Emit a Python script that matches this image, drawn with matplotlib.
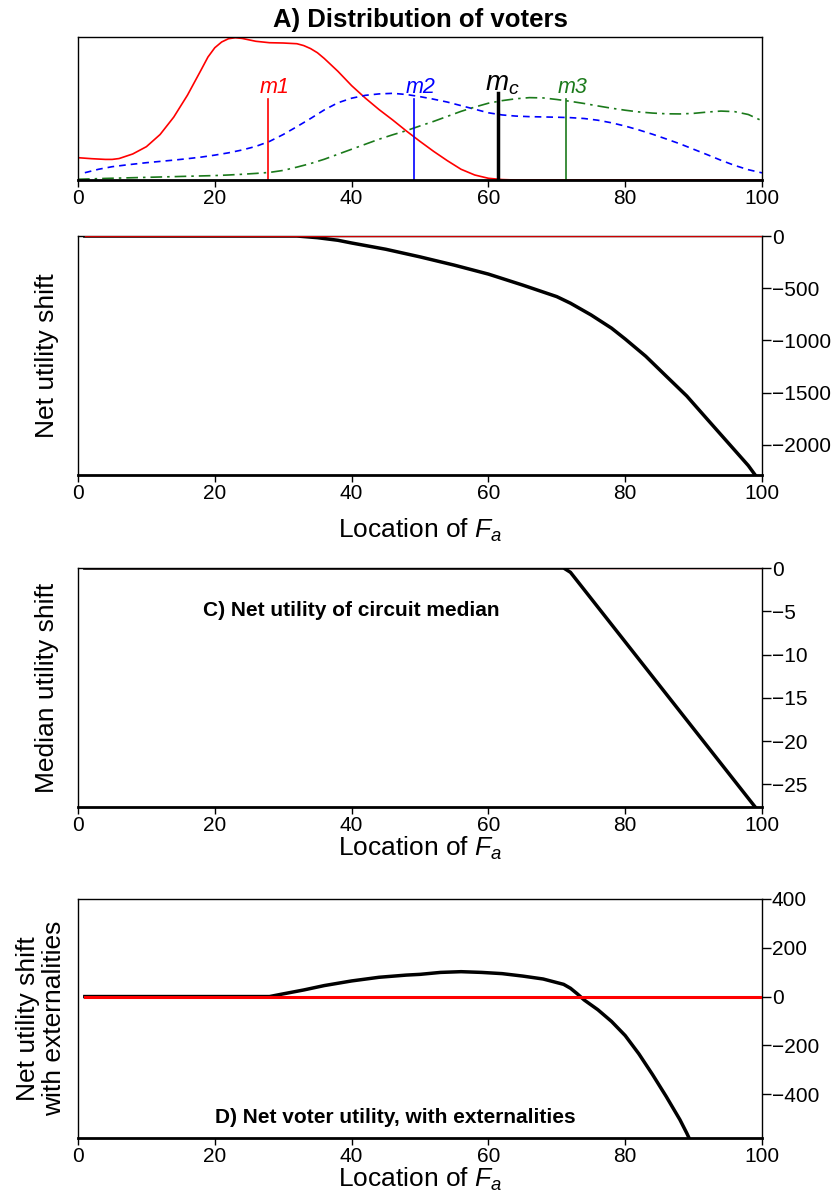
import matplotlib
matplotlib.use("Agg")
import matplotlib.pyplot as plt

plt.rcParams['font.family'] = ['Liberation Sans', 'DejaVu Sans']
plt.rcParams['mathtext.fontset'] = 'custom'
plt.rcParams['mathtext.rm'] = 'Liberation Sans'
plt.rcParams['mathtext.it'] = 'Liberation Sans:italic'
plt.rcParams['axes.unicode_minus'] = True

# ---------------- data ----------------
# Panel A: voter densities (scaled so the red peak touches the top)
red_x = [0, 2, 4, 5, 6, 8, 10, 12, 14, 16, 18, 19, 20, 21, 22, 23, 24, 26, 28, 30, 32,
         33, 34, 35, 36, 38, 40, 42, 44, 46, 48, 50, 52, 54, 56, 58, 60, 62, 64, 100]
red_y = [0.156, 0.149, 0.144, 0.144, 0.150, 0.182, 0.233, 0.318, 0.44, 0.593, 0.77,
         0.86, 0.925, 0.965, 0.988, 0.995, 0.99, 0.97, 0.96, 0.958, 0.953, 0.94, 0.919,
         0.89, 0.85, 0.76, 0.66, 0.573, 0.493, 0.42, 0.343, 0.27, 0.2, 0.135, 0.075,
         0.035, 0.012, 0.003, 0.0, 0.0]

blue_x = [1, 3, 5, 7, 10, 12, 14, 16, 18, 20, 22, 24, 26, 28, 30, 32, 34, 36, 38, 40,
          42, 44, 46, 48, 50, 52, 54, 56, 58, 60, 62, 64, 66, 68, 70, 72, 74, 76, 78,
          80, 82, 84, 86, 88, 90, 92, 94, 96, 98, 100]
blue_y = [0.051, 0.075, 0.093, 0.105, 0.121, 0.13, 0.139, 0.149, 0.16, 0.174, 0.19,
          0.21, 0.235, 0.27, 0.318, 0.373, 0.43, 0.49, 0.54, 0.572, 0.592, 0.602, 0.606,
          0.598, 0.583, 0.565, 0.545, 0.52, 0.495, 0.47, 0.455, 0.447, 0.443, 0.441,
          0.439, 0.436, 0.43, 0.418, 0.40, 0.377, 0.35, 0.32, 0.287, 0.253, 0.215,
          0.177, 0.138, 0.102, 0.072, 0.05]

green_x = [0, 4, 8, 12, 16, 20, 22, 24, 26, 28, 30, 32, 34, 36, 38, 40, 42, 44, 46, 48,
           50, 52, 54, 56, 58, 60, 62, 64, 66, 68, 70, 72, 74, 76, 78, 80, 82, 84, 86,
           88, 90, 92, 94, 96, 98, 100]
green_y = [0.005, 0.011, 0.016, 0.021, 0.026, 0.031, 0.035, 0.04, 0.046, 0.053, 0.067,
           0.09, 0.115, 0.145, 0.18, 0.215, 0.25, 0.285, 0.316, 0.345, 0.378, 0.41,
           0.445, 0.48, 0.51, 0.537, 0.555, 0.568, 0.576, 0.574, 0.563, 0.55, 0.535,
           0.518, 0.502, 0.488, 0.476, 0.468, 0.463, 0.462, 0.466, 0.475, 0.482, 0.478,
           0.458, 0.414]

median_names = ['m1', 'm2', 'm3']
median_pos = [27.8, 49.1, 71.3]
median_top = [0.564, 0.564, 0.564]
median_cols = ['#FF0000', '#0000FF', '#1B7A1B']
circuit_median = 61.4
circuit_median_top = 0.606

# Panel B: net utility shift
b_x = [1, 32, 35, 38, 40, 45, 50, 55, 60, 65, 70, 72, 75, 78, 80, 83, 86, 89, 92, 95, 98, 99]
b_y = [0, 0, -16, -41, -67, -127, -200, -279, -365, -470, -581, -644, -756, -883, -987,
       -1152, -1343, -1533, -1756, -1978, -2200, -2290]

# Panel C: median utility shift
c_x = [1, 71, 72, 99]
c_y = [0, 0, -0.5, -27.6]

# Panel D: net utility shift with externalities
d_x = [1, 28, 30, 33, 36, 40, 44, 48, 50, 53, 56, 59, 62, 65, 68, 71, 72, 73, 74, 76,
       78, 80, 82, 84, 86, 88, 89, 90]
d_y = [0, 0, 11, 27, 45, 64, 79, 88, 91, 99, 102, 99, 94, 84, 72, 50, 34, 11, -14, -54,
       -102, -160, -235, -320, -410, -505, -560, -620]

x_ticks = [0, 20, 40, 60, 80, 100]
b_ticks = [0, -500, -1000, -1500, -2000]
c_ticks = [0, -5, -10, -15, -20, -25]
d_ticks = [400, 200, 0, -200, -400]

# ---------------- figure ----------------
W, H = 837, 1193
fig = plt.figure(figsize=(W / 100, H / 100), dpi=100)

L = 78 / W
AW = (762 - 78) / W


def make_ax(top_px, bot_px):
    return fig.add_axes([L, 1 - bot_px / H, AW, (bot_px - top_px) / H])


def style(ax, right_ticks=True):
    ax.set_xlim(0, 100)
    ax.set_xticks(x_ticks)
    ax.tick_params(axis='x', direction='out', length=5, width=1, pad=1.5, labelsize=15)
    for s in ['left', 'right', 'top']:
        ax.spines[s].set_linewidth(1)
    ax.spines['bottom'].set_linewidth(2)
    if right_ticks:
        ax.yaxis.tick_right()
        ax.tick_params(axis='y', direction='out', length=6.5, width=1, pad=0.5,
                       labelsize=15, left=False, right=True)
    else:
        ax.set_yticks([])


# Panel A
axA = make_ax(37, 180)
axA.plot(red_x, red_y, color='#FF0000', lw=1.2, ls='-')
axA.plot(blue_x, blue_y, color='#0000FF', lw=1.2, ls=(0, (4, 3)))
axA.plot(green_x, green_y, color='#1B7A1B', lw=1.2, ls=(0, (7, 3, 1.5, 3)))
for name, pos, top, col in zip(median_names, median_pos, median_top, median_cols):
    axA.plot([pos, pos], [0, top], color=col, lw=1.2)
    axA.text(pos + 1.0, 0.61, name, color=col, fontsize=15.5, style='italic',
             ha='center', va='baseline')
axA.plot([circuit_median, circuit_median], [0, circuit_median_top], color='black', lw=2.5)
axA.text(circuit_median + 0.6, 0.625, r'$m_c$', color='black', fontsize=20,
         ha='center', va='baseline')
axA.set_ylim(0, 1.0)
style(axA, right_ticks=False)
axA.text(0.5, 1 + 17 / 143, 'A) Distribution of voters', transform=axA.transAxes,
         ha='center', va='center', fontsize=18.5, fontweight='bold')

# Panel B
axB = make_ax(236, 475)
axB.plot(b_x, b_y, color='black', lw=2.5)
axB.plot([1, 100], [0, 0], color='#CC0000', lw=1.0, zorder=3)
axB.set_ylim(-2290, 0)
style(axB)
axB.set_yticks(b_ticks)
axB.set_yticklabels(['0', '\u2212500', '\u22121000', '\u22121500', '\u22122000'])
axB.text(0.5, -55 / 239, r'Location of $F_a$', transform=axB.transAxes,
         ha='center', va='center', fontsize=19)
fig.text(47 / W, 1 - 355.5 / H, 'Net utility shift', rotation=90, ha='center',
         va='center', fontsize=19)

# Panel C
axC = make_ax(568, 807)
axC.plot(c_x, c_y, color='black', lw=2.5)
axC.plot([1, 100], [0, 0], color='#CC0000', lw=1.0, zorder=1)
axC.set_ylim(-27.6, 0)
style(axC)
axC.set_yticks(c_ticks)
axC.set_yticklabels(['0', '\u22125', '\u221210', '\u221215', '\u221220', '\u221225'])
axC.text(40, -4.9, 'C) Net utility of circuit median', ha='center', va='center',
         fontsize=15, fontweight='bold')
axC.text(0.5, -41 / 239, r'Location of $F_a$', transform=axC.transAxes,
         ha='center', va='center', fontsize=19)
fig.text(47 / W, 1 - 687.5 / H, 'Median utility shift', rotation=90, ha='center',
         va='center', fontsize=19)

# Panel D
axD = make_ax(899, 1138)
axD.plot(d_x, d_y, color='black', lw=2.5)
axD.plot([1, 100], [0, 0], color='#FF0000', lw=2.2, zorder=3)
axD.set_ylim(-580, 400)
style(axD)
axD.set_yticks(d_ticks)
axD.set_yticklabels(['400', '200', '0', '\u2212200', '\u2212400'])
axD.text(46.4, -497, 'D) Net voter utility, with externalities', ha='center',
         va='center', fontsize=15, fontweight='bold')
axD.text(0.5, -41 / 239, r'Location of $F_a$', transform=axD.transAxes,
         ha='center', va='center', fontsize=19)
fig.text(41 / W, 1 - 1018.5 / H, 'Net utility shift\nwith externalities', rotation=90,
         ha='center', va='center', fontsize=19, multialignment='center',
         linespacing=1.1)

fig.savefig('out.png', dpi=100)
